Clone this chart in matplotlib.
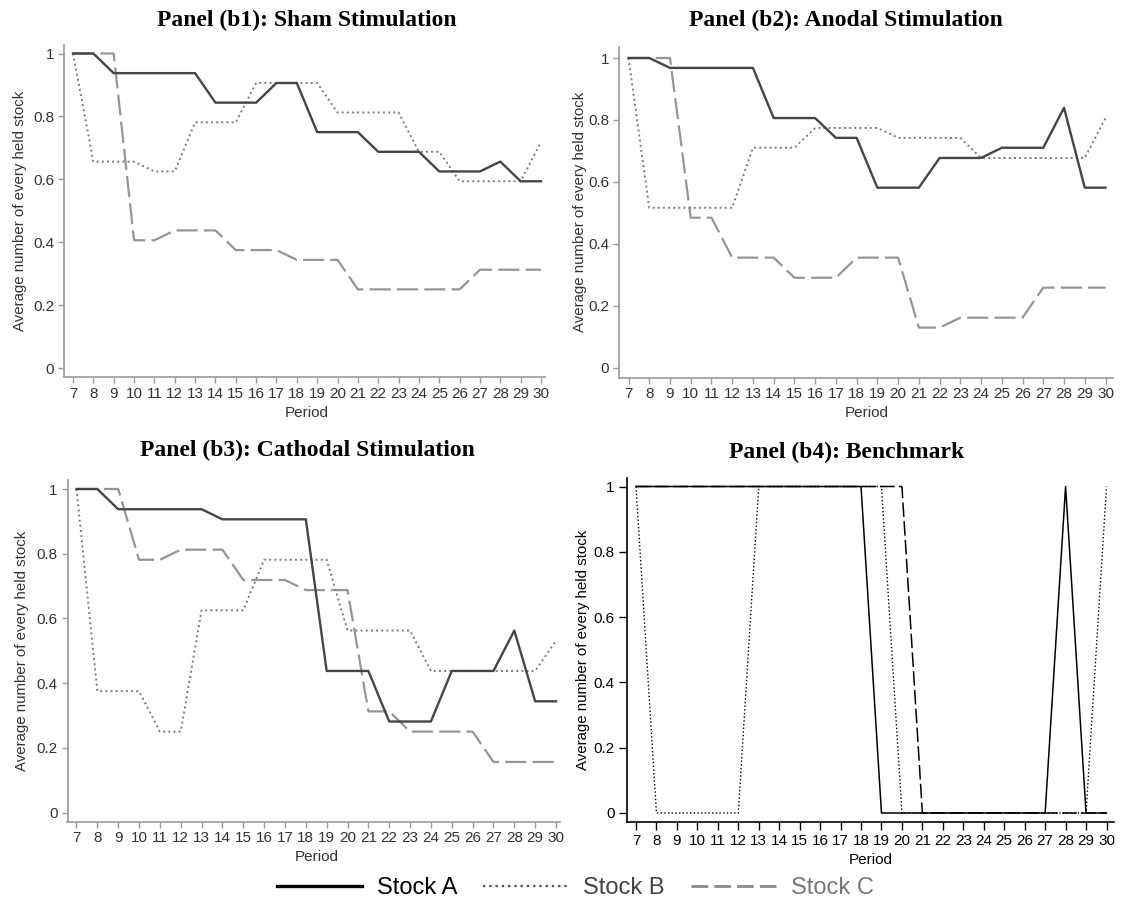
import matplotlib
matplotlib.use("Agg")
import matplotlib.pyplot as plt
from matplotlib.lines import Line2D

W, H = 1121, 900

# --- data ---
periods = list(range(7, 31))

sham_a = [1, 1, .9375, .9375, .9375, .9375, .9375, .84375, .84375, .84375, .90625, .90625,
          .75, .75, .75, .6875, .6875, .6875, .625, .625, .625, .65625, .59375, .59375]
sham_b = [1, .65625, .65625, .65625, .625, .625, .78125, .78125, .78125, .90625, .90625, .90625,
          .90625, .8125, .8125, .8125, .8125, .6875, .6875, .59375, .59375, .59375, .59375, .71875]
sham_c = [1, 1, 1, .40625, .40625, .4375, .4375, .4375, .375, .375, .375, .34375,
          .34375, .34375, .25, .25, .25, .25, .25, .25, .3125, .3125, .3125, .3125]

anodal_a = [1, 1, .968, .968, .968, .968, .968, .806, .806, .806, .742, .742,
            .581, .581, .581, .677, .677, .677, .710, .710, .710, .839, .581, .581]
anodal_b = [1, .516, .516, .516, .516, .516, .710, .710, .710, .774, .774, .774,
            .774, .742, .742, .742, .742, .677, .677, .677, .677, .677, .677, .806]
anodal_c = [1, 1, 1, .484, .484, .355, .355, .355, .290, .290, .290, .355,
            .355, .355, .129, .129, .161, .161, .161, .161, .258, .258, .258, .258]

cath_a = [1, 1, .9375, .9375, .9375, .9375, .9375, .90625, .90625, .90625, .90625, .90625,
          .4375, .4375, .4375, .28125, .28125, .28125, .4375, .4375, .4375, .5625, .34375, .34375]
cath_b = [1, .375, .375, .375, .25, .25, .625, .625, .625, .78125, .78125, .78125,
          .78125, .5625, .5625, .5625, .5625, .4375, .4375, .4375, .4375, .4375, .4375, .53125]
cath_c = [1, 1, 1, .78125, .78125, .8125, .8125, .8125, .71875, .71875, .71875, .6875,
          .6875, .6875, .3125, .3125, .25, .25, .25, .25, .15625, .15625, .15625, .15625]

bench_a = [1, 1, 1, 1, 1, 1, 1, 1, 1, 1, 1, 1, 0, 0, 0, 0, 0, 0, 0, 0, 0, 1, 0, 0]
bench_b = [1, 0, 0, 0, 0, 0, 1, 1, 1, 1, 1, 1, 1, 0, 0, 0, 0, 0, 0, 0, 0, 0, 0, 1]
bench_c = [1, 1, 1, 1, 1, 1, 1, 1, 1, 1, 1, 1, 1, 1, 0, 0, 0, 0, 0, 0, 0, 0, 0, 0]

titles = ["Panel (b1): Sham Stimulation", "Panel (b2): Anodal Stimulation",
          "Panel (b3): Cathodal Stimulation", "Panel (b4): Benchmark"]
series = [(sham_a, sham_b, sham_c), (anodal_a, anodal_b, anodal_c),
          (cath_a, cath_b, cath_c), (bench_a, bench_b, bench_c)]
yticks = [0, 0.2, 0.4, 0.6, 0.8, 1]
ytick_labels = ["0", "0.2", "0.4", "0.6", "0.8", "1"]

# pixel layout: x7, x30, y1, y0, left, right, top, bottom, title(x,y), ylabel x, xlabel y
layout = [
    (73, 541, 53.5, 368, 64, 545, 45, 377, (307, 20), 20, 413),
    (628.5, 1105.5, 58, 367.5, 619, 1113, 47, 377.5, (846, 20), 580, 413),
    (76.5, 556, 489, 812.5, 67.5, 560, 480, 821.5, (307, 450), 22, 857),
    (636, 1106.5, 486.5, 813, 626.5, 1114, 478, 822, (847, 452), 583, 860),
]

fig = plt.figure(figsize=(W / 100, H / 100), dpi=100)
sans = "Liberation Sans"

for i, (sa, sb, sc) in enumerate(series):
    x7, x30, y1, y0, l, r, t, b, tpos, ylx, xly = layout[i]
    ax = fig.add_axes([l / W, 1 - b / H, (r - l) / W, (b - t) / H])
    ppx = (x30 - x7) / 23
    ppy = (y0 - y1)
    ax.set_xlim(7 - (x7 - l) / ppx, 30 + (r - x30) / ppx)
    ax.set_ylim(-(b - y0) / ppy, 1 + (y1 - t) / ppy)

    bench = i == 3
    if bench:
        ca, cb, cc = "black", "black", "black"
        lwa, lwb, lwc = 1.1, 1.0, 1.1
        spine_c, lab_c = "black", "black"
        tick_len = 5.5
    else:
        ca, cb, cc = "#454545", "#7a7a7a", "#959595"
        lwa, lwb, lwc = 1.7, 1.4, 1.6
        spine_c, lab_c = "#9a9a9a", "#333333"
        tick_len = 4

    ax.plot(periods, sc, color=cc, lw=lwc, dashes=(9.5, 2.8))
    ax.plot(periods, sb, color=cb, lw=lwb, linestyle=":")
    ax.plot(periods, sa, color=ca, lw=lwa)

    for s in ("top", "right"):
        ax.spines[s].set_visible(False)
    for s in ("left", "bottom"):
        ax.spines[s].set_color(spine_c)
        ax.spines[s].set_linewidth(1.2)

    ax.set_xticks(periods)
    ax.set_xticklabels([str(p) for p in periods], fontfamily=sans, fontsize=11, color=lab_c)
    ax.set_yticks(yticks)
    ax.set_yticklabels(ytick_labels, fontfamily=sans, fontsize=11, color=lab_c)
    ax.tick_params(direction="out", length=tick_len, width=1, color=spine_c, pad=3)

    ax.set_ylabel("Average number of every held stock", fontfamily=sans, fontsize=10.8, color=lab_c)
    ax.yaxis.set_label_coords((ylx - l) / (r - l), 0.5)
    ax.set_xlabel("Period", fontfamily=sans, fontsize=11, color=lab_c)
    ax.xaxis.set_label_coords(((x7 + x30) / 2 - l) / (r - l), -(xly - b) / (b - t))
    ax.xaxis.label.set_va("center")
    ax.yaxis.label.set_va("center")

    fig.text(tpos[0] / W, 1 - tpos[1] / H, titles[i], ha="center", va="center",
             fontfamily="Liberation Serif", fontweight="bold", fontsize=17)

handles = [
    Line2D([], [], color="black", lw=2.4),
    Line2D([], [], color="#555555", lw=1.7, linestyle=":"),
    Line2D([], [], color="#8a8a8a", lw=2.0, dashes=(6, 2.2)),
]
leg = fig.legend(handles, ["Stock A", "Stock B", "Stock C"], loc="center left",
                 bbox_to_anchor=(260 / W, 1 - 888 / H), ncol=3, frameon=False,
                 handlelength=3.6, handletextpad=0.64, columnspacing=1.1,
                 borderpad=0.2, prop={"family": sans, "size": 17})
for txt, col in zip(leg.get_texts(), ["black", "#444444", "#777777"]):
    txt.set_color(col)

fig.savefig("out.png", dpi=100)
